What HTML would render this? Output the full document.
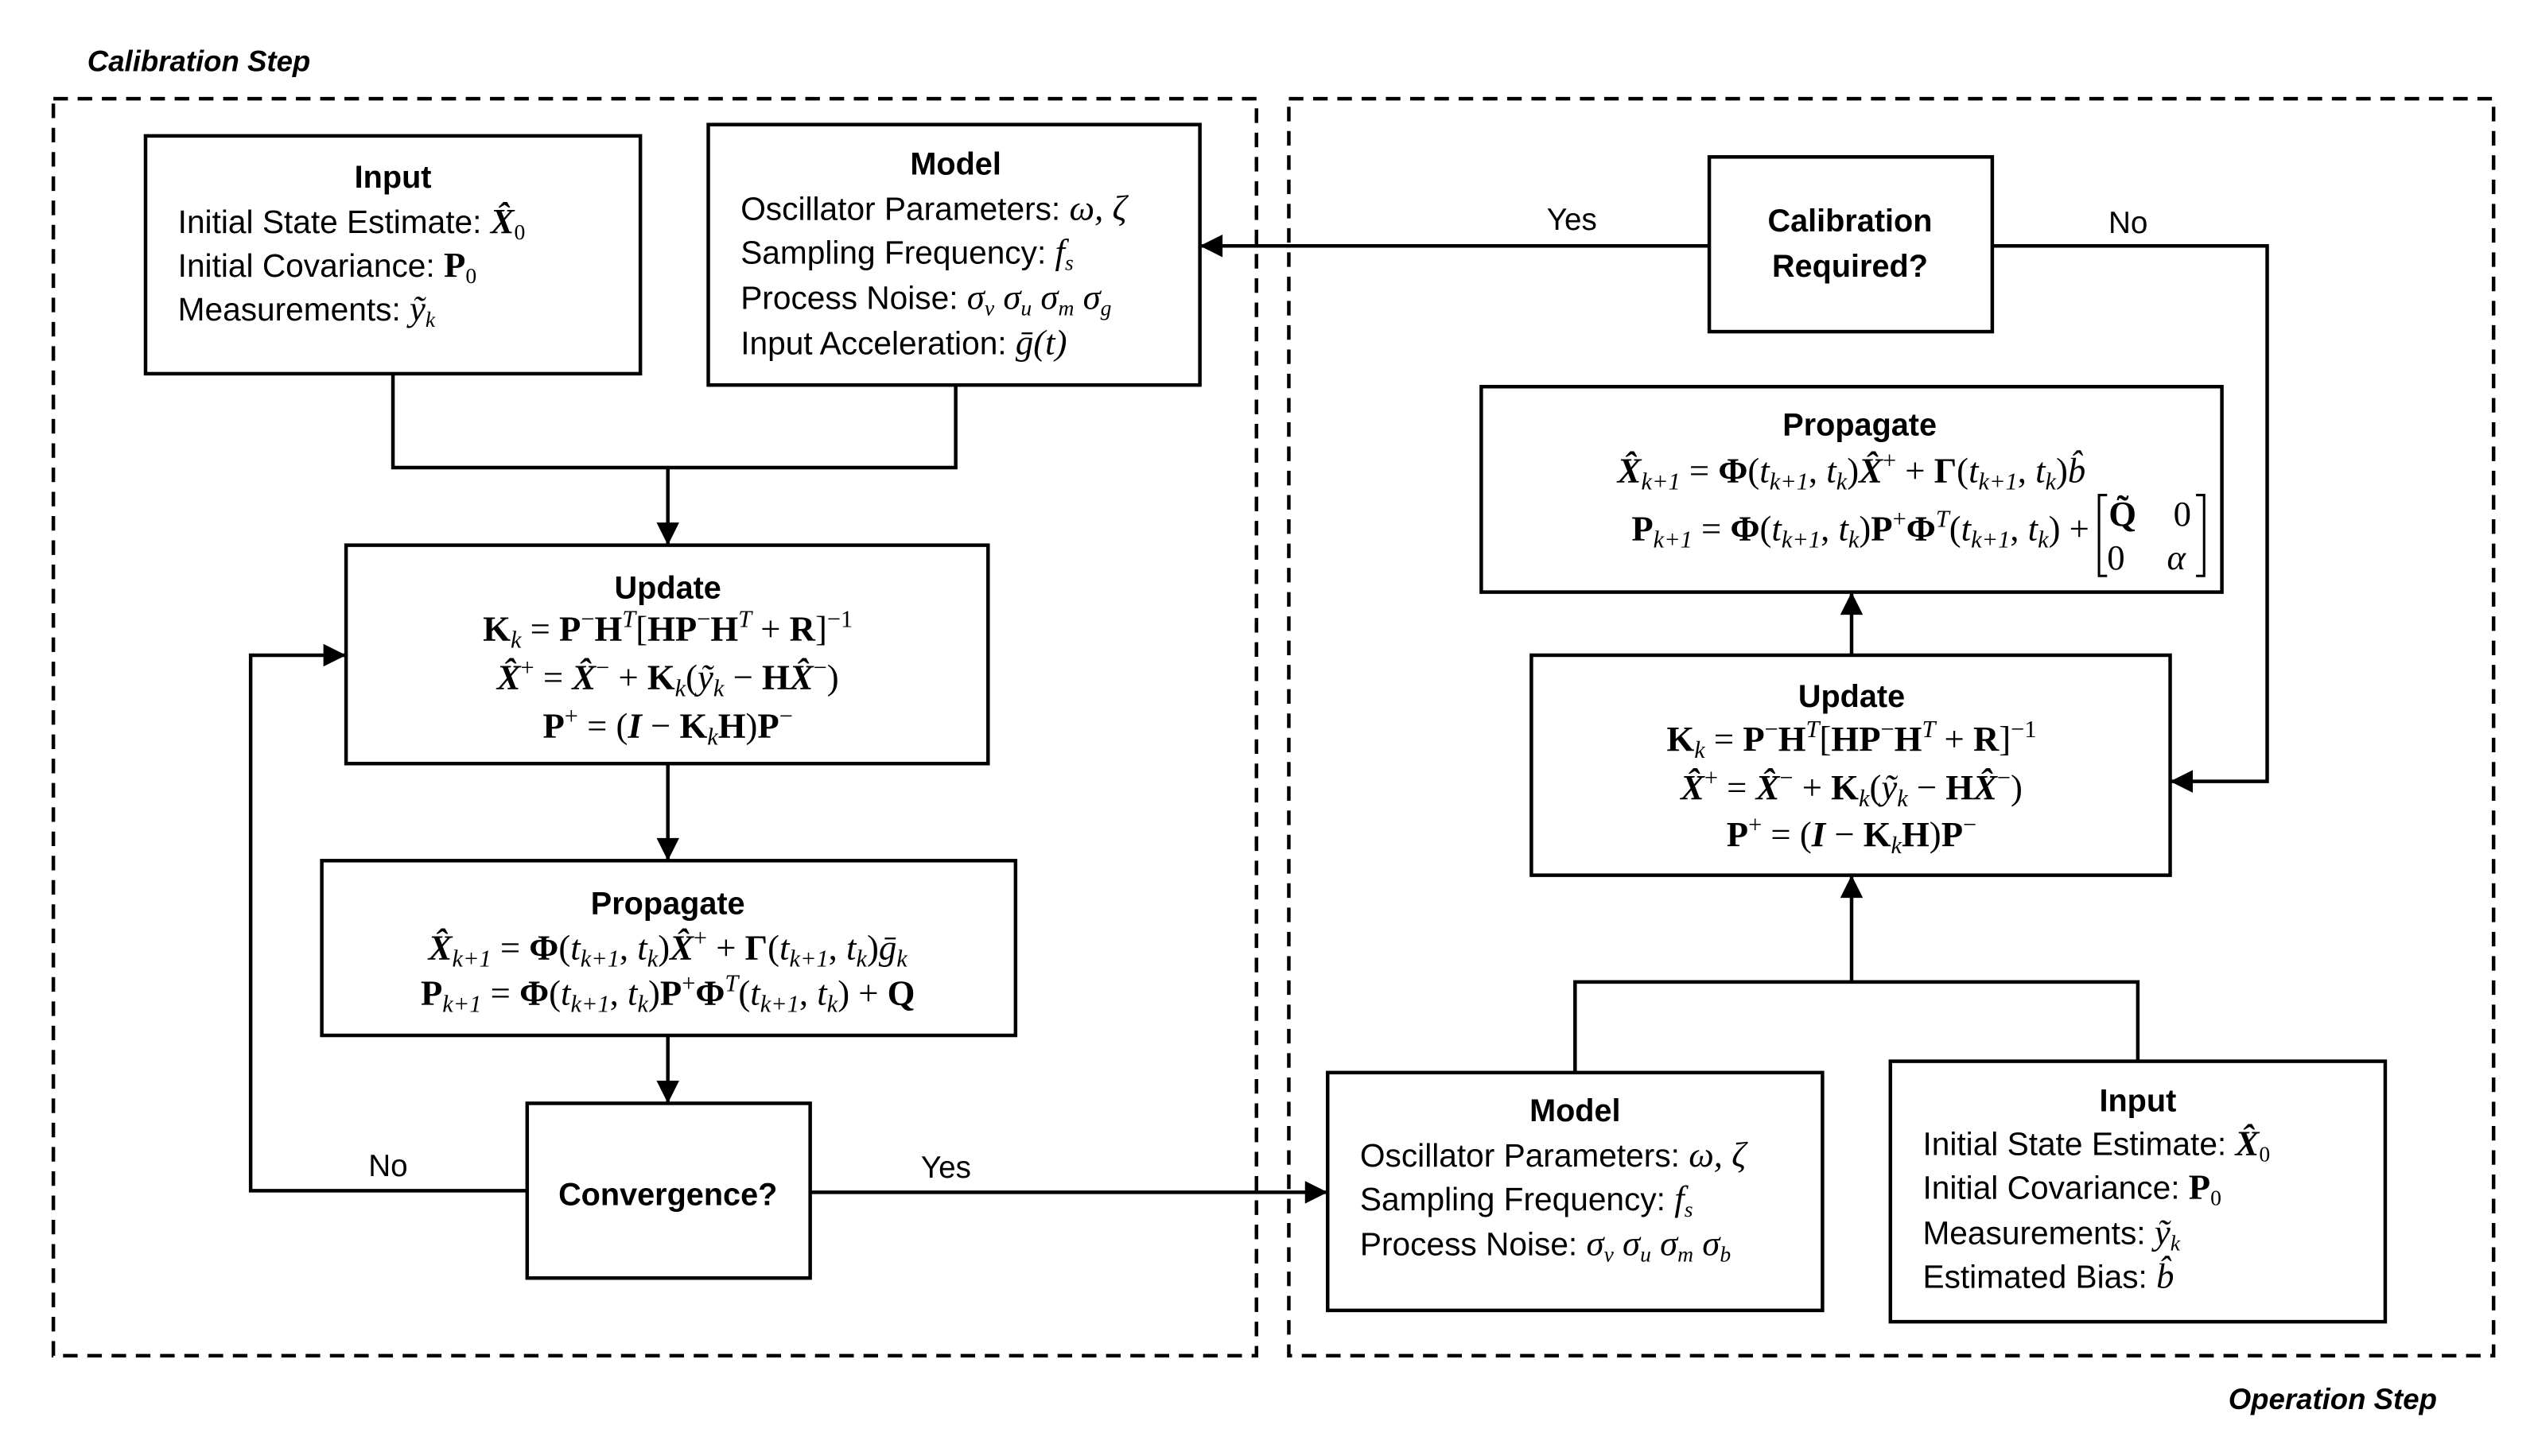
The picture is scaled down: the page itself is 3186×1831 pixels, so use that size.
<!DOCTYPE html>
<html><head><meta charset="utf-8"><style>
html,body{margin:0;padding:0;background:#fff}
svg{display:block}
text{font-family:"Liberation Sans",sans-serif;font-size:20px;fill:#000}
.t{font-weight:bold;font-size:19.5px}
.m{font-family:"Liberation Serif",serif;font-size:22px}
.b{font-weight:bold}
.i{font-style:italic}
.sb{font-size:0.68em;baseline-shift:-0.3em;font-style:italic}
.sp{font-size:0.68em;baseline-shift:0.55em}
.lab{font-size:19px}
</style></head><body>
<svg width="3186" height="1831" viewBox="0 0 1567 900" preserveAspectRatio="none" xmlns="http://www.w3.org/2000/svg">
<defs>
<marker id="ar" viewBox="0 0 10 10" markerWidth="16" markerHeight="14" refX="10" refY="5" orient="auto" markerUnits="userSpaceOnUse"><path d="M0,0 L10,5 L0,10 z" fill="#000"/></marker></defs>
<g fill="none" stroke="#000" stroke-width="2.2">
<rect x="33" y="61" width="744" height="777" stroke-dasharray="9 6"/>
<rect x="797" y="61" width="745" height="777" stroke-dasharray="9 6"/>
<rect x="90" y="84" width="306" height="147"/>
<rect x="438" y="77" width="304" height="161"/>
<rect x="214" y="337" width="397" height="135"/>
<rect x="199" y="532" width="429" height="108"/>
<rect x="326" y="682" width="175" height="108"/>
<rect x="821" y="663" width="306" height="147"/>
<rect x="1169" y="656" width="306" height="161"/>
<rect x="947" y="405" width="395" height="136"/>
<rect x="916" y="239" width="458" height="127"/>
<rect x="1057" y="97" width="175" height="108"/>
<polyline points="243,231 243,289 591,289 591,238"/>
<line x1="413" y1="289" x2="413" y2="337" marker-end="url(#ar)"/>
<line x1="413" y1="472" x2="413" y2="532" marker-end="url(#ar)"/>
<line x1="413" y1="640" x2="413" y2="682" marker-end="url(#ar)"/>
<polyline points="326,736 155,736 155,405 214,405" marker-end="url(#ar)"/>
<line x1="501" y1="737" x2="821" y2="737" marker-end="url(#ar)"/>
<polyline points="974,663 974,607 1322,607 1322,656"/>
<line x1="1145" y1="607" x2="1145" y2="541" marker-end="url(#ar)"/>
<line x1="1145" y1="405" x2="1145" y2="366" marker-end="url(#ar)"/>
<line x1="1057" y1="152" x2="742" y2="152" marker-end="url(#ar)"/>
<polyline points="1232,152 1402,152 1402,483 1342,483" marker-end="url(#ar)"/>
</g>
<text x="54" y="44" class="b i" style="font-size:18px">Calibration Step</text>
<text x="1378" y="871" class="b i" style="font-size:18px">Operation Step</text>
<text x="240" y="727" class="lab" text-anchor="middle">No</text>
<text x="585" y="728" class="lab" text-anchor="middle">Yes</text>
<text x="972" y="142" class="lab" text-anchor="middle">Yes</text>
<text x="1316" y="144" class="lab" text-anchor="middle">No</text>

<!-- Input L -->
<text x="243" y="116" class="t" text-anchor="middle">Input</text>
<text x="110" y="144">Initial State Estimate: <tspan class="m b i">X̂</tspan><tspan class="m sb" style="font-style:normal">0</tspan></text>
<text x="110" y="171">Initial Covariance: <tspan class="m b">P</tspan><tspan class="m sb" style="font-style:normal">0</tspan></text>
<text x="110" y="198">Measurements:  <tspan class="m i">ỹ</tspan><tspan class="m sb">k</tspan></text>
<!-- Model L -->
<text x="591" y="108" class="t" text-anchor="middle">Model</text>
<text x="458" y="136">Oscillator Parameters: <tspan class="m i">ω, ζ</tspan></text>
<text x="458" y="163">Sampling Frequency: <tspan class="m i">f</tspan><tspan class="m sb">s</tspan></text>
<text x="458" y="191">Process Noise: <tspan class="m i">σ</tspan><tspan class="m sb">v</tspan><tspan class="m i"> σ</tspan><tspan class="m sb">u</tspan><tspan class="m i"> σ</tspan><tspan class="m sb">m</tspan><tspan class="m i"> σ</tspan><tspan class="m sb">g</tspan></text>
<text x="458" y="219">Input Acceleration: <tspan class="m i">ḡ(t)</tspan></text>
<!-- Update L -->
<text x="413" y="370" class="t" text-anchor="middle">Update</text>
<text x="413" y="396" class="m" text-anchor="middle"><tspan class="b">K</tspan><tspan class="sb">k</tspan> = <tspan class="b">P</tspan><tspan class="sp">−</tspan><tspan class="b">H</tspan><tspan class="sp i">T</tspan>[<tspan class="b">HP</tspan><tspan class="sp">−</tspan><tspan class="b">H</tspan><tspan class="sp i">T</tspan> + <tspan class="b">R</tspan>]<tspan class="sp">−1</tspan></text>
<text x="413" y="426" class="m" text-anchor="middle"><tspan class="b i">X̂</tspan><tspan class="sp">+</tspan> = <tspan class="b i">X̂</tspan><tspan class="sp">−</tspan> + <tspan class="b">K</tspan><tspan class="sb">k</tspan>(<tspan class="i">ỹ</tspan><tspan class="sb">k</tspan> − <tspan class="b">H</tspan><tspan class="b i">X̂</tspan><tspan class="sp">−</tspan>)</text>
<text x="413" y="456" class="m" text-anchor="middle"><tspan class="b">P</tspan><tspan class="sp">+</tspan> = (<tspan class="b i">I</tspan> − <tspan class="b">K</tspan><tspan class="sb">k</tspan><tspan class="b">H</tspan>)<tspan class="b">P</tspan><tspan class="sp">−</tspan></text>
<!-- Propagate L -->
<text x="413" y="565" class="t" text-anchor="middle">Propagate</text>
<text x="413" y="593" class="m" text-anchor="middle"><tspan class="b i">X̂</tspan><tspan class="sb">k+1</tspan> = <tspan class="b">Φ</tspan>(<tspan class="i">t</tspan><tspan class="sb">k+1</tspan>, <tspan class="i">t</tspan><tspan class="sb">k</tspan>)<tspan class="b i">X̂</tspan><tspan class="sp">+</tspan> + <tspan class="b">Γ</tspan>(<tspan class="i">t</tspan><tspan class="sb">k+1</tspan>, <tspan class="i">t</tspan><tspan class="sb">k</tspan>)<tspan class="i">ḡ</tspan><tspan class="sb">k</tspan></text>
<text x="413" y="621" class="m" text-anchor="middle"><tspan class="b">P</tspan><tspan class="sb">k+1</tspan> = <tspan class="b">Φ</tspan>(<tspan class="i">t</tspan><tspan class="sb">k+1</tspan>, <tspan class="i">t</tspan><tspan class="sb">k</tspan>)<tspan class="b">P</tspan><tspan class="sp">+</tspan><tspan class="b">Φ</tspan><tspan class="sp i">T</tspan>(<tspan class="i">t</tspan><tspan class="sb">k+1</tspan>, <tspan class="i">t</tspan><tspan class="sb">k</tspan>) + <tspan class="b">Q</tspan></text>
<text x="413" y="745" class="t" text-anchor="middle">Convergence?</text>
<!-- Calibration required -->
<text x="1144" y="143" class="t" text-anchor="middle">Calibration</text>
<text x="1144" y="171" class="t" text-anchor="middle">Required?</text>
<!-- Propagate R -->
<text x="1150" y="269" class="t" text-anchor="middle">Propagate</text>
<text x="1145" y="298" class="m" text-anchor="middle"><tspan class="b i">X̂</tspan><tspan class="sb">k+1</tspan> = <tspan class="b">Φ</tspan>(<tspan class="i">t</tspan><tspan class="sb">k+1</tspan>, <tspan class="i">t</tspan><tspan class="sb">k</tspan>)<tspan class="b i">X̂</tspan><tspan class="sp">+</tspan> + <tspan class="b">Γ</tspan>(<tspan class="i">t</tspan><tspan class="sb">k+1</tspan>, <tspan class="i">t</tspan><tspan class="sb">k</tspan>)<tspan class="i">b̂</tspan></text>
<text x="1292" y="334" class="m" text-anchor="end"><tspan class="b">P</tspan><tspan class="sb">k+1</tspan> = <tspan class="b">Φ</tspan>(<tspan class="i">t</tspan><tspan class="sb">k+1</tspan>, <tspan class="i">t</tspan><tspan class="sb">k</tspan>)<tspan class="b">P</tspan><tspan class="sp">+</tspan><tspan class="b">Φ</tspan><tspan class="sp i">T</tspan>(<tspan class="i">t</tspan><tspan class="sb">k+1</tspan>, <tspan class="i">t</tspan><tspan class="sb">k</tspan>) +</text>
<g fill="none" stroke="#000" stroke-width="1.5"><polyline points="1303,306 1298,306 1298,356 1303,356"/><polyline points="1358,306 1363,306 1363,356 1358,356"/></g>
<text x="1304" y="325" class="m b">Q̃</text><text x="1344" y="325" class="m">0</text>
<text x="1303" y="352" class="m">0</text><text x="1340" y="352" class="m i">α</text>
<!-- Update R -->
<text x="1145" y="437" class="t" text-anchor="middle">Update</text>
<text x="1145" y="464" class="m" text-anchor="middle"><tspan class="b">K</tspan><tspan class="sb">k</tspan> = <tspan class="b">P</tspan><tspan class="sp">−</tspan><tspan class="b">H</tspan><tspan class="sp i">T</tspan>[<tspan class="b">HP</tspan><tspan class="sp">−</tspan><tspan class="b">H</tspan><tspan class="sp i">T</tspan> + <tspan class="b">R</tspan>]<tspan class="sp">−1</tspan></text>
<text x="1145" y="494" class="m" text-anchor="middle"><tspan class="b i">X̂</tspan><tspan class="sp">+</tspan> = <tspan class="b i">X̂</tspan><tspan class="sp">−</tspan> + <tspan class="b">K</tspan><tspan class="sb">k</tspan>(<tspan class="i">ỹ</tspan><tspan class="sb">k</tspan> − <tspan class="b">H</tspan><tspan class="b i">X̂</tspan><tspan class="sp">−</tspan>)</text>
<text x="1145" y="523" class="m" text-anchor="middle"><tspan class="b">P</tspan><tspan class="sp">+</tspan> = (<tspan class="b i">I</tspan> − <tspan class="b">K</tspan><tspan class="sb">k</tspan><tspan class="b">H</tspan>)<tspan class="b">P</tspan><tspan class="sp">−</tspan></text>
<!-- Model R -->
<text x="974" y="693" class="t" text-anchor="middle">Model</text>
<text x="841" y="721">Oscillator Parameters: <tspan class="m i">ω, ζ</tspan></text>
<text x="841" y="748">Sampling Frequency: <tspan class="m i">f</tspan><tspan class="m sb">s</tspan></text>
<text x="841" y="776">Process Noise: <tspan class="m i">σ</tspan><tspan class="m sb">v</tspan><tspan class="m i"> σ</tspan><tspan class="m sb">u</tspan><tspan class="m i"> σ</tspan><tspan class="m sb">m</tspan><tspan class="m i"> σ</tspan><tspan class="m sb">b</tspan></text>
<!-- Input R -->
<text x="1322" y="687" class="t" text-anchor="middle">Input</text>
<text x="1189" y="714">Initial State Estimate: <tspan class="m b i">X̂</tspan><tspan class="m sb" style="font-style:normal">0</tspan></text>
<text x="1189" y="741">Initial Covariance: <tspan class="m b">P</tspan><tspan class="m sb" style="font-style:normal">0</tspan></text>
<text x="1189" y="769">Measurements:  <tspan class="m i">ỹ</tspan><tspan class="m sb">k</tspan></text>
<text x="1189" y="796">Estimated Bias: <tspan class="m i">b̂</tspan></text>
</svg>
</body></html>
